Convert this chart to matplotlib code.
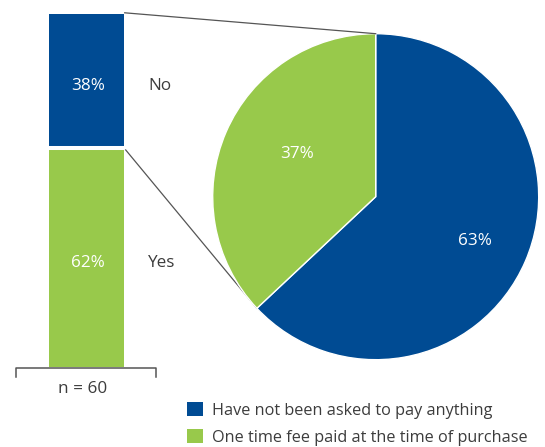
import numpy as np
import matplotlib.pyplot as plt
from matplotlib.patches import Patch

plt.rcParams["font.family"] = ["Open Sans", "DejaVu Sans"]

# stacked bar: asked to pay?
bar_labels = ["Yes", "No"]
bar_values = [62, 38]
# breakdown of the "No" group
pie_labels = ["Have not been asked to pay anything",
              "One time fee paid at the time of purchase"]
pie_values = [63, 37]
sample_size = 60

BLUE = "#004b93"
GREEN = "#98c94b"
GREY = "#555555"
TEXT = "#3c3c3c"

W, H = 545, 447
fig = plt.figure(figsize=(W / 100, H / 100), dpi=100)
ax = fig.add_axes([0, 0, 1, 1])

# bar laid out in pixel units (y pointing up)
bar_x, bar_w = 86.2, 75
bar_bottom = H - 367.3
px_per_pct = 353 / 100.0
dy_txt = -5   # text sits a little below the segment middle

bottoms = [bar_bottom]
for v in bar_values[:-1]:
    bottoms.append(bottoms[-1] + v * px_per_pct)
heights = [v * px_per_pct for v in bar_values]
ax.bar(bar_x, heights, bottom=bottoms, width=bar_w,
       color=[GREEN, BLUE], linewidth=0)
# white separator between the two segments
split_y = bottoms[1]
ax.plot([bar_x - bar_w / 2, bar_x + bar_w / 2], [split_y, split_y],
        color="white", lw=2.9, solid_capstyle="butt")

for b, h, v, name in zip(bottoms, heights, bar_values, bar_labels):
    ax.text(bar_x + 2, b + h / 2 + dy_txt, "%d%%" % v, color="white",
            fontsize=12.3, ha="center", va="center")
    ax.text(148, b + h / 2 + dy_txt, name, color=TEXT, fontsize=12.3,
            ha="left", va="center")

# pie for the "No" segment
cx, cy, r = 375.7, H - 196.7, 163
wedges, _ = ax.pie(pie_values, colors=[BLUE, GREEN], startangle=90,
                   counterclock=False, center=(cx, cy), radius=r,
                   frame=True,
                   wedgeprops=dict(edgecolor="white", linewidth=1.0))

pct_pos = [(475, H - 238.3), (296.7, H - 151)]
for v, (tx, ty) in zip(pie_values, pct_pos):
    ax.text(tx, ty - 3, "%d%%" % v, color="white", fontsize=12.3,
            ha="center", va="center")

# connector lines from the bar to the pie
top_bar = bottoms[1] + heights[1]
edge_ang = np.deg2rad(wedges[0].theta1)
ax.plot([bar_x + bar_w / 2 + 1, cx], [top_bar + 1.5, cy + r],
        color=GREY, lw=0.9)
ax.plot([bar_x + bar_w / 2 + 2, cx + r * np.cos(edge_ang)],
        [split_y - 1.5, cy + r * np.sin(edge_ang)],
        color=GREY, lw=0.9, zorder=0)

# bracket under the bar
by = H - 367.7
ax.plot([15.7, 15.7, 156.3, 156.3], [by - 9.5, by, by, by - 9.5],
        color=GREY, lw=1.1)
ax.text(83, H - 389, "n = %d" % sample_size, color=TEXT,
        fontsize=12.3, ha="center", va="center")

handles = [Patch(facecolor=c, edgecolor="none") for c in (BLUE, GREEN)]
fig.legend(handles, pie_labels, loc="upper left",
           bbox_to_anchor=(186.7 / W, 1 - 402 / H), frameon=False,
           fontsize=11.7, labelcolor=TEXT, handlelength=0.98,
           handleheight=0.98, handletextpad=0.59, labelspacing=0.62,
           borderaxespad=0, borderpad=0)

ax.set_xlim(0, W)
ax.set_ylim(0, H)
ax.set_aspect("equal")
ax.axis("off")

fig.savefig("out.png", dpi=100)
